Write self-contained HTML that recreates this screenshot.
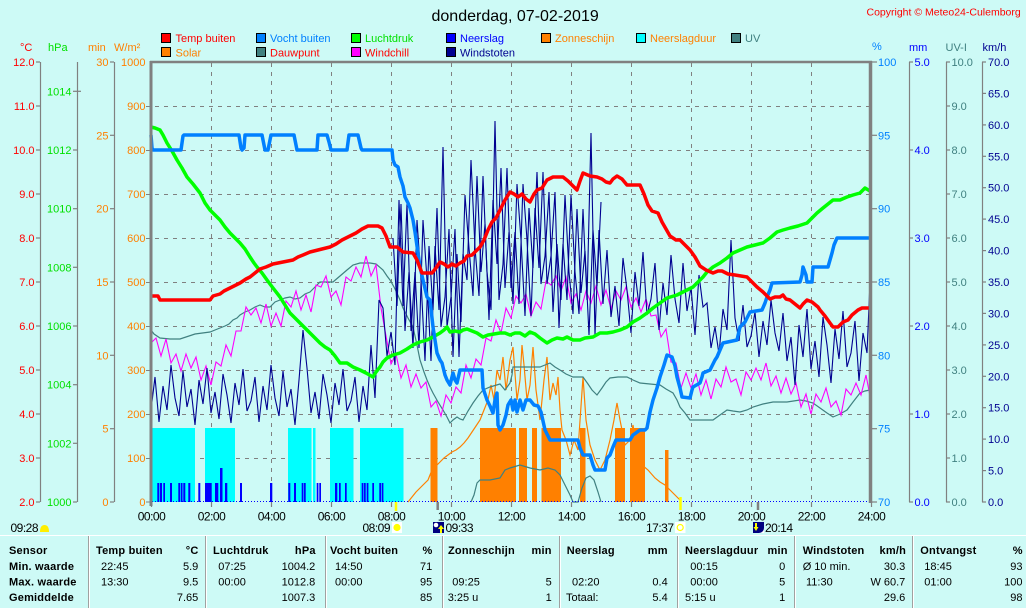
<!DOCTYPE html>
<html>
<head>
<meta charset="utf-8">
<style>
html,body{margin:0;padding:0;background:#cdfaf6;}
body{width:1026px;height:608px;overflow:hidden;}
svg{display:block;}
text{font-family:"Liberation Sans",Arial,sans-serif;font-size:11px;}
.b{font-weight:bold;letter-spacing:0.2px;}
.t{font-size:12px;letter-spacing:-0.5px;}
.e{text-anchor:end;}
</style>
</head>
<body>
<svg width="1026" height="608" viewBox="0 0 1026 608" xmlns="http://www.w3.org/2000/svg">
<rect x="0" y="0" width="1026" height="608" fill="#cdfaf6"/>

<!-- Title & copyright -->
<text x="431.5" y="21" style="font-size:16px" fill="#000">donderdag, 07-02-2019</text>
<text x="866.5" y="15.5" style="font-size:10.5px" fill="#ff0000">Copyright © Meteo24-Culemborg</text>

<!-- Legend -->
<g stroke="#000" stroke-width="1">
<rect x="161.5" y="33.5" width="9" height="9" fill="#ff0000"/>
<rect x="256.5" y="33.5" width="9" height="9" fill="#0080ff"/>
<rect x="351.5" y="33.5" width="9" height="9" fill="#00ff00"/>
<rect x="446.5" y="33.5" width="9" height="9" fill="#0000ff"/>
<rect x="541.5" y="33.5" width="9" height="9" fill="#ff8000"/>
<rect x="636.5" y="33.5" width="9" height="9" fill="#00ffff"/>
<rect x="731.5" y="33.5" width="9" height="9" fill="#408080"/>
<rect x="161.5" y="47.5" width="9" height="9" fill="#ff8000"/>
<rect x="256.5" y="47.5" width="9" height="9" fill="#408080"/>
<rect x="351.5" y="47.5" width="9" height="9" fill="#ff00ff"/>
<rect x="446.5" y="47.5" width="9" height="9" fill="#000090"/>
</g>
<text x="175.5" y="42" fill="#ff0000">Temp buiten</text>
<text x="270" y="42" fill="#0080ff">Vocht buiten</text>
<text x="365" y="42" fill="#00e000">Luchtdruk</text>
<text x="460" y="42" fill="#0000ff">Neerslag</text>
<text x="555" y="42" fill="#ff8000">Zonneschijn</text>
<text x="650" y="42" fill="#ff8000">Neerslagduur</text>
<text x="745" y="42" fill="#408080">UV</text>
<text x="175.5" y="56.5" fill="#ff8000">Solar</text>
<text x="270" y="56.5" fill="#ff0000">Dauwpunt</text>
<text x="365" y="56.5" fill="#ff0000">Windchill</text>
<text x="460" y="56.5" fill="#000090">Windstoten</text>

<!-- Unit headers -->
<text x="20" y="51" fill="#ff0000">°C</text>
<text x="48" y="51" fill="#00e000">hPa</text>
<text x="88" y="51" fill="#ff8000">min</text>
<text x="114" y="51" fill="#ff8000">W/m²</text>
<text x="872" y="50" fill="#0080ff">%</text>
<text x="909" y="51" fill="#0000ff">mm</text>
<text x="945.5" y="51" fill="#408080">UV-I</text>
<text x="982.5" y="51" fill="#000090">km/h</text>

<!-- Axis lines -->
<g stroke="#808080" stroke-width="1.2">
<line x1="40.5" y1="62" x2="40.5" y2="502"/>
<line x1="77.5" y1="62" x2="77.5" y2="502"/>
<line x1="114.5" y1="62" x2="114.5" y2="502"/>
<line x1="909.5" y1="62" x2="909.5" y2="502"/>
<line x1="946.5" y1="62" x2="946.5" y2="502"/>
<line x1="982.5" y1="62" x2="982.5" y2="502"/>
</g>
<!-- Ticks -->
<g stroke="#808080" stroke-width="1.2">
<!-- C -->
<line x1="36" y1="62" x2="40" y2="62"/><line x1="36" y1="106" x2="40" y2="106"/><line x1="36" y1="150" x2="40" y2="150"/><line x1="36" y1="194" x2="40" y2="194"/><line x1="36" y1="238" x2="40" y2="238"/><line x1="36" y1="282" x2="40" y2="282"/><line x1="36" y1="326" x2="40" y2="326"/><line x1="36" y1="370" x2="40" y2="370"/><line x1="36" y1="414" x2="40" y2="414"/><line x1="36" y1="458" x2="40" y2="458"/><line x1="36" y1="502" x2="40" y2="502"/>
<!-- hPa -->
<line x1="73" y1="91.3" x2="81" y2="91.3"/><line x1="73" y1="150" x2="77" y2="150"/><line x1="73" y1="208.7" x2="77" y2="208.7"/><line x1="73" y1="267.3" x2="77" y2="267.3"/><line x1="73" y1="326" x2="77" y2="326"/><line x1="73" y1="384.7" x2="77" y2="384.7"/><line x1="73" y1="443.3" x2="77" y2="443.3"/><line x1="73" y1="502" x2="77" y2="502"/>
<!-- min -->
<line x1="110" y1="62" x2="114" y2="62"/><line x1="110" y1="135.3" x2="114" y2="135.3"/><line x1="110" y1="208.7" x2="114" y2="208.7"/><line x1="110" y1="282" x2="114" y2="282"/><line x1="110" y1="355.3" x2="114" y2="355.3"/><line x1="110" y1="428.7" x2="114" y2="428.7"/><line x1="110" y1="502" x2="114" y2="502"/>
<!-- % -->
<line x1="871" y1="62" x2="877" y2="62"/><line x1="871" y1="135.3" x2="877" y2="135.3"/><line x1="871" y1="208.7" x2="877" y2="208.7"/><line x1="871" y1="282" x2="877" y2="282"/><line x1="871" y1="355.3" x2="877" y2="355.3"/><line x1="871" y1="428.7" x2="877" y2="428.7"/><line x1="871" y1="502" x2="877" y2="502"/>
<!-- mm -->
<line x1="909" y1="62" x2="913" y2="62"/><line x1="909" y1="150" x2="913" y2="150"/><line x1="909" y1="238" x2="913" y2="238"/><line x1="909" y1="326" x2="913" y2="326"/><line x1="909" y1="414" x2="913" y2="414"/><line x1="909" y1="502" x2="913" y2="502"/>
<!-- UV -->
<line x1="946" y1="62" x2="950" y2="62"/><line x1="946" y1="106" x2="950" y2="106"/><line x1="946" y1="150" x2="950" y2="150"/><line x1="946" y1="194" x2="950" y2="194"/><line x1="946" y1="238" x2="950" y2="238"/><line x1="946" y1="282" x2="950" y2="282"/><line x1="946" y1="326" x2="950" y2="326"/><line x1="946" y1="370" x2="950" y2="370"/><line x1="946" y1="414" x2="950" y2="414"/><line x1="946" y1="458" x2="950" y2="458"/><line x1="946" y1="502" x2="950" y2="502"/>
<!-- km/h -->
<line x1="982" y1="62" x2="986" y2="62"/><line x1="982" y1="93.4" x2="986" y2="93.4"/><line x1="982" y1="124.9" x2="986" y2="124.9"/><line x1="982" y1="156.3" x2="986" y2="156.3"/><line x1="982" y1="187.7" x2="986" y2="187.7"/><line x1="982" y1="219.1" x2="986" y2="219.1"/><line x1="982" y1="250.6" x2="986" y2="250.6"/><line x1="982" y1="282" x2="986" y2="282"/><line x1="982" y1="313.4" x2="986" y2="313.4"/><line x1="982" y1="344.9" x2="986" y2="344.9"/><line x1="982" y1="376.3" x2="986" y2="376.3"/><line x1="982" y1="407.7" x2="986" y2="407.7"/><line x1="982" y1="439.1" x2="986" y2="439.1"/><line x1="982" y1="470.6" x2="986" y2="470.6"/><line x1="982" y1="502" x2="986" y2="502"/>
<!-- x ticks -->
<line x1="151.5" y1="502" x2="151.5" y2="507"/><line x1="211.5" y1="502" x2="211.5" y2="507"/><line x1="271.5" y1="502" x2="271.5" y2="507"/><line x1="331.5" y1="502" x2="331.5" y2="507"/><line x1="391.5" y1="502" x2="391.5" y2="507"/><line x1="451.5" y1="502" x2="451.5" y2="507"/><line x1="511.5" y1="502" x2="511.5" y2="507"/><line x1="571.5" y1="502" x2="571.5" y2="507"/><line x1="631.5" y1="502" x2="631.5" y2="507"/><line x1="691.5" y1="502" x2="691.5" y2="507"/><line x1="751.5" y1="502" x2="751.5" y2="507"/><line x1="811.5" y1="502" x2="811.5" y2="507"/><line x1="871.5" y1="502" x2="871.5" y2="507"/>
</g>

<!-- Left labels -->
<g fill="#ff0000" class="e">
<text class="e" x="34.5" y="66">12.0</text><text class="e" x="34.5" y="110">11.0</text><text class="e" x="34.5" y="154">10.0</text><text class="e" x="34.5" y="198">9.0</text><text class="e" x="34.5" y="242">8.0</text><text class="e" x="34.5" y="286">7.0</text><text class="e" x="34.5" y="330">6.0</text><text class="e" x="34.5" y="374">5.0</text><text class="e" x="34.5" y="418">4.0</text><text class="e" x="34.5" y="462">3.0</text><text class="e" x="34.5" y="506">2.0</text>
</g>
<g fill="#00e000">
<text class="e" x="71.5" y="95.3">1014</text><text class="e" x="71.5" y="154">1012</text><text class="e" x="71.5" y="212.7">1010</text><text class="e" x="71.5" y="271.3">1008</text><text class="e" x="71.5" y="330">1006</text><text class="e" x="71.5" y="388.7">1004</text><text class="e" x="71.5" y="447.3">1002</text><text class="e" x="71.5" y="506">1000</text>
</g>
<g fill="#ff8000">
<text class="e" x="108.5" y="66">30</text><text class="e" x="108.5" y="139.3">25</text><text class="e" x="108.5" y="212.7">20</text><text class="e" x="108.5" y="286">15</text><text class="e" x="108.5" y="359.3">10</text><text class="e" x="108.5" y="432.7">5</text><text class="e" x="108.5" y="506">0</text>
<text class="e" x="145.5" y="66">1000</text><text class="e" x="145.5" y="110">900</text><text class="e" x="145.5" y="154">800</text><text class="e" x="145.5" y="198">700</text><text class="e" x="145.5" y="242">600</text><text class="e" x="145.5" y="286">500</text><text class="e" x="145.5" y="330">400</text><text class="e" x="145.5" y="374">300</text><text class="e" x="145.5" y="418">200</text><text class="e" x="145.5" y="462">100</text><text class="e" x="145.5" y="506">0</text>
</g>
<!-- Right labels -->
<g fill="#0080ff">
<text x="878" y="66">100</text><text x="878" y="139.3">95</text><text x="878" y="212.7">90</text><text x="878" y="286">85</text><text x="878" y="359.3">80</text><text x="878" y="432.7">75</text><text x="878" y="506">70</text>
</g>
<g fill="#0000ff">
<text x="914.5" y="66">5.0</text><text x="914.5" y="154">4.0</text><text x="914.5" y="242">3.0</text><text x="914.5" y="330">2.0</text><text x="914.5" y="418">1.0</text><text x="914.5" y="506">0.0</text>
</g>
<g fill="#408080">
<text x="951.5" y="66">10.0</text><text x="951.5" y="110">9.0</text><text x="951.5" y="154">8.0</text><text x="951.5" y="198">7.0</text><text x="951.5" y="242">6.0</text><text x="951.5" y="286">5.0</text><text x="951.5" y="330">4.0</text><text x="951.5" y="374">3.0</text><text x="951.5" y="418">2.0</text><text x="951.5" y="462">1.0</text><text x="951.5" y="506">0.0</text>
</g>
<g fill="#000090">
<text x="988" y="66">70.0</text><text x="988" y="97.4">65.0</text><text x="988" y="128.9">60.0</text><text x="988" y="160.3">55.0</text><text x="988" y="191.7">50.0</text><text x="988" y="223.1">45.0</text><text x="988" y="254.6">40.0</text><text x="988" y="286">35.0</text><text x="988" y="317.4">30.0</text><text x="988" y="348.9">25.0</text><text x="988" y="380.3">20.0</text><text x="988" y="411.7">15.0</text><text x="988" y="443.1">10.0</text><text x="988" y="474.6">5.0</text><text x="988" y="506">0.0</text>
</g>

<!-- Grid -->
<g stroke="#808080" stroke-width="1" stroke-dasharray="4 5">
<line x1="146" y1="106.5" x2="869" y2="106.5"/><line x1="146" y1="150.5" x2="869" y2="150.5"/><line x1="146" y1="194.5" x2="869" y2="194.5"/><line x1="146" y1="238.5" x2="869" y2="238.5"/><line x1="146" y1="282.5" x2="869" y2="282.5"/><line x1="146" y1="326.5" x2="869" y2="326.5"/><line x1="146" y1="370.5" x2="869" y2="370.5"/><line x1="146" y1="414.5" x2="869" y2="414.5"/><line x1="146" y1="458.5" x2="869" y2="458.5"/><line x1="146" y1="502" x2="151" y2="502"/>
<line x1="211.5" y1="63" x2="211.5" y2="502"/><line x1="271.5" y1="63" x2="271.5" y2="502"/><line x1="331.5" y1="63" x2="331.5" y2="502"/><line x1="391.5" y1="63" x2="391.5" y2="502"/><line x1="451.5" y1="63" x2="451.5" y2="502"/><line x1="511.5" y1="63" x2="511.5" y2="502"/><line x1="571.5" y1="63" x2="571.5" y2="502"/><line x1="631.5" y1="63" x2="631.5" y2="502"/><line x1="691.5" y1="63" x2="691.5" y2="502"/><line x1="751.5" y1="63" x2="751.5" y2="502"/><line x1="811.5" y1="63" x2="811.5" y2="502"/>
</g>

<!-- Neerslagduur (cyan) -->
<g fill="#00ffff">
<rect x="152" y="428" width="43" height="74"/>
<rect x="205" y="428" width="30" height="74"/>
<rect x="288" y="428" width="23.5" height="74"/>
<rect x="313" y="428" width="2.5" height="74"/>
<rect x="330" y="428" width="23.5" height="74"/>
<rect x="360" y="428" width="43.5" height="74"/>
</g>
<!-- Zonneschijn (orange bars) -->
<g fill="#ff8000">
<rect x="430.5" y="428" width="7" height="74"/>
<rect x="480" y="428" width="36" height="74"/>
<rect x="519" y="428" width="8" height="74"/>
<rect x="532" y="428" width="5" height="74"/>
<rect x="541.5" y="428" width="19.5" height="74"/>
<rect x="580" y="428" width="5.5" height="74"/>
<rect x="615" y="428" width="10" height="74"/>
<rect x="630" y="428" width="15" height="74"/>
<rect x="665" y="450" width="3.5" height="52"/>
</g>
<!-- Neerslag (blue bars) -->
<g fill="#0000ff">
<rect x="157.3" y="483" width="2" height="19"/><rect x="160" y="483" width="2" height="19"/><rect x="163.3" y="483" width="1.7" height="19"/><rect x="170" y="483" width="2" height="19"/><rect x="178.3" y="483" width="2" height="19"/><rect x="181" y="483" width="1.5" height="19"/><rect x="183.3" y="483" width="2" height="19"/><rect x="188.3" y="483" width="2" height="19"/><rect x="198.3" y="483" width="2" height="19"/><rect x="205" y="483" width="6.7" height="19"/><rect x="215" y="483" width="3.3" height="19"/><rect x="220" y="468" width="2.5" height="34"/><rect x="225" y="483" width="2.3" height="19"/><rect x="240" y="483" width="2" height="19"/><rect x="270" y="483" width="2.3" height="19"/><rect x="288.3" y="483" width="2" height="19"/><rect x="294" y="483" width="2" height="19"/><rect x="301.7" y="483" width="1.7" height="19"/><rect x="304" y="483" width="1.7" height="19"/><rect x="316.7" y="483" width="1.7" height="19"/><rect x="319.3" y="483" width="1.7" height="19"/><rect x="335" y="483" width="2.3" height="19"/><rect x="339" y="483" width="1.7" height="19"/><rect x="345" y="483" width="1.7" height="19"/><rect x="361.7" y="483" width="1.7" height="19"/><rect x="364" y="483" width="1.7" height="19"/><rect x="366.7" y="483" width="1.7" height="19"/><rect x="372.3" y="483" width="1.7" height="19"/><rect x="379.3" y="483" width="1.7" height="19"/><rect x="381.7" y="483" width="1.7" height="19"/>
</g>

<!-- UV -->
<polyline fill="none" stroke="#408080" stroke-width="1.2" points="471,502 474,495 477,483 480,480 490,480 500,478 505,470 510,468 520,465 530,468 540,470 548,468 555,470 560,475 565,485 570,495 573,502 578,502 582,488 586,478 590,476 594,480 598,492 601,502"/>
<!-- Solar -->
<polyline fill="none" stroke="#ff8000" stroke-width="1.2" points="408,502 412,497 416,492 420,488 424,484 428,480 432,470 436,466 440,462 444,458 448,455 452,452 456,450 460,447 464,443 468,438 472,432 476,426 480,420 484,410 488,400 491,385 494,400 497,370 500,380 503,357 506,390 510,360 513,347 517,400 520,380 522,345 524,365 527,400 530,385 533,347 536,390 540,420 544,380 547,357 550,400 553,383 556,395 558,377 560,410 562,430 566,440 570,455 574,440 578,450 583,377 586,420 590,445 595,460 600,470 605,460 610,440 614,420 617,403 620,420 625,445 630,440 633,425 637,450 642,465 648,470 655,478 660,482 665,485 670,490 675,495 680,500"/>
<!-- Dauwpunt -->
<polyline fill="none" stroke="#408080" stroke-width="1.2" points="151,330 154,334 160,338 170,339 180,339 195,334 210,332 215,330 220,328 225,326 229,324 233,320 237,318 240,315 245,312 250,310 255,307 260,305 265,307 270,307 275,302 280,300 285,298 290,297 295,299 300,298 305,294 310,292 315,287 320,282 326,282 333,282 340,276 347,270 353,265 360,263 370,263 376,264 383,270 387,276 390,280 394,287 397,293 400,300 403,308 408,318 413,327 417,345 420,360 424,372 427,380 430,387 433,393 438,402 443,410 447,417 450,423 453,420 457,417 460,419 463,420 468,411 473,403 478,396 483,390 490,387 500,384 505,390 510,383 512,375 513,367 520,367 530,367 540,367 545,365 550,363 555,367 560,370 566,374 573,377 583,377 588,384 592,390 597,395 602,388 606,382 610,378 618,377 627,377 633,380 640,383 650,384 660,385 666,389 673,393 677,400 680,407 685,413 690,420 700,420 706,420 713,420 720,415 727,410 733,411 740,412 747,410 753,407 763,404 773,402 787,402 800,400 806,401 813,403 820,408 827,413 833,417 840,414 847,410 853,402 860,393 865,391 870,390"/>
<!-- Windchill -->
<polyline fill="none" stroke="#ff00ff" stroke-width="1.1" points="151,343 156,338 161,356 166,339 171,363 176,354 181,371 186,354 191,368 196,357 201,380 206,366 211,385 216,362 221,366 226,345 231,356 236,331 241,331 246,307 251,315 256,308 261,323 266,304 271,326 276,313 281,326 286,301 291,307 296,291 301,310 306,295 311,312 316,285 321,287 326,276 331,297 336,291 341,305 346,277 351,281 356,267 361,277 366,256 371,276 376,265 381,308 386,336 391,364 396,354 401,378 406,365 411,387 416,374 421,388 426,382 431,407 436,401 441,416 446,395 451,403 456,387 461,393 466,365 471,378 476,359 481,365 486,338 491,341 496,320 501,333 506,308 511,318 516,296 521,303 526,294 531,316 536,302 541,309 546,281 551,285 556,276 561,291 566,277 571,303 576,294 581,310 586,291 591,303 596,286 601,305 606,290 611,309 616,291 621,300 626,287 631,307 636,298 641,312 646,299 651,316 656,315 661,337 666,329 671,362 676,363 681,388 686,373 691,388 696,374 701,395 706,380 711,399 716,379 721,387 726,367 731,382 736,379 741,395 746,372 751,380 756,368 761,380 766,363 771,386 776,376 781,393 786,378 791,394 796,383 801,407 806,394 811,414 816,394 821,402 826,388 831,407 836,401 841,415 846,389 851,395 856,383 861,395 866,375 870,396"/>
<!-- Windstoten -->
<polyline fill="none" stroke="#000090" stroke-width="1.1" points="151,410 155,377 159,422 163,386 167,410 171,365 175,398 179,416 183,371 187,407 191,389 195,425 199,380 203,404 207,368 211,413 215,392 219,419 223,374 227,395 231,423 235,383 239,405 243,369 247,411 251,401 255,377 259,422 263,386 267,410 271,365 275,398 279,416 283,371 287,407 291,389 295,425 299,380 303,330 307,368 311,413 315,392 319,419 323,374 327,395 331,423 335,383 339,405 343,369 347,411 351,401 355,377 359,422 363,386 367,410 371,345 375,398 379,300 383,308 387,356 391,332 395,365 399,200 403,306 407,204 411,331 415,272 419,348 423,220 427,280 431,361 435,246 439,310 443,147 447,327 451,297 455,229 459,357 463,254 467,280 471,160 475,248 479,296 483,176 487,272 491,310 495,121 499,300 503,264 507,168 511,288 515,232 519,304 523,184 527,240 531,316 535,208 539,268 543,172 547,284 551,256 555,192 559,328 563,244 567,300 571,195 575,272 579,314 583,209 587,300 591,133 595,335 599,230 603,304 607,250 611,317 615,286 619,326 623,258 627,290 631,333 635,272 639,306 643,252 647,315 651,299 655,263 659,330 663,283 667,315 671,255 675,299 679,323 683,263 687,311 691,287 695,335 699,275 703,307 707,303 711,348 715,327 719,354 723,309 727,330 731,240 735,318 739,341 743,305 747,347 751,336 755,312 759,357 763,321 767,345 771,300 775,333 779,351 783,313 787,361 791,337 795,385 799,325 803,357 807,309 811,369 815,341 819,377 823,317 827,345 831,383 835,329 839,359 843,311 847,367 851,353 855,321 859,381 863,333 867,353 870,282"/>
<polyline fill="none" stroke="#000090" stroke-width="1.1" points="393,238 397,306 401,204 405,331 409,272 413,348 417,220 421,280 425,361 429,246 433,310 437,208 441,327 445,297 449,229 453,357 457,254 461,322 465,195 469,248 473,296 477,176 481,272 485,224 489,320 493,200 497,264 501,168 505,288 509,232 513,304 517,184 521,240 525,316 529,208 533,268 537,172 541,284 545,256 549,192 553,312 557,244 561,300 565,195 569,272 573,314 577,209 581,293 585,251 589,335 593,230 597,286 601,202"/>

<!-- Luchtdruk -->
<polyline fill="none" stroke="#00ff00" stroke-width="3.5" stroke-linejoin="round" points="151,127 155,128 160,130 163,135 167,143 172,151 177,160 182,168 187,177 193,184 200,193 205,203 210,210 215,215 220,220 225,227 230,233 235,238 240,243 245,249 250,257 254,263 257,267 262,273 267,280 273,288 280,297 285,305 290,313 295,318 300,323 305,328 310,333 315,338 320,343 325,347 330,350 335,356 340,363 347,363 353,367 360,370 366,373 373,377 376,372 380,367 383,362 387,358 393,355 400,353 407,349 413,345 420,342 427,340 433,337 440,333 444,330 447,327 450,332 455,331 460,332 463,330 467,329 472,331 477,333 480,335 483,337 488,335 494,334 500,333 505,333 510,335 515,333 520,333 525,336 530,332 535,334 540,338 547,343 552,340 557,338 563,339 567,337 573,340 580,340 585,338 593,337 600,333 607,333 613,332 620,330 627,327 633,322 640,318 647,313 653,308 660,303 667,298 677,295 683,292 693,287 698,282 703,277 707,272 713,267 720,263 727,258 733,253 740,250 747,247 755,245 763,243 770,238 777,232 783,230 790,228 798,226 807,223 812,218 817,213 823,208 828,204 833,200 840,200 847,197 853,195 860,193 865,188 870,191"/>
<!-- Vocht buiten -->
<polyline fill="none" stroke="#0080ff" stroke-width="3.5" stroke-linejoin="round" points="151,135 152,148 153,150 181,150 183,136 184,135 239,135 241,148 242,150 244,148 245,135 262,135 265,150 268,150 271,135 294,135 297,150 317,150 318,135 327,135 329,142 331,150 347,150 349,135 358,135 361,148 362,150 392,150 393,160 395,165 398,167 400,177 403,186 405,197 408,203 410,208 413,220 415,232 418,253 420,267 423,280 427,297 430,300 433,327 435,340 437,353 440,360 442,363 445,375 447,380 450,385 453,373 455,380 457,383 460,370 482,370 483,388 487,400 490,406 493,413 495,400 497,393 498,425 500,430 503,425 506,415 508,405 511,400 513,410 515,400 517,412 520,400 523,410 526,400 530,400 534,405 538,406 541,412 545,430 550,440 578,440 580,448 583,455 590,455 593,465 595,470 605,470 607,458 610,455 613,447 616,440 630,440 633,435 640,430 645,430 647,428 650,412 653,400 657,388 660,377 664,365 667,355 672,357 675,366 677,377 680,388 682,397 690,398 692,390 693,387 700,383 702,377 703,373 710,370 715,360 717,357 720,350 723,343 737,340 740,327 745,322 750,312 762,310 765,303 767,297 770,290 772,283 800,282 802,275 803,267 806,275 807,282 812,282 813,267 828,267 830,260 832,253 834,245 837,238 870,238"/>
<!-- Temp buiten -->
<polyline fill="none" stroke="#ff0000" stroke-width="3.5" stroke-linejoin="round" points="151,296 158,296 160,300 210,300 213,296 220,294 224,291 230,288 234,286 240,283 246,279 250,277 255,273 260,269 266,267 273,264 283,262 293,260 298,257 303,255 310,252 318,250 330,247 336,244 342,240 350,236 356,233 362,229 368,226 378,226 382,228 386,236 390,247 397,247 403,252 413,253 417,260 422,273 432,273 436,268 440,262 444,264 448,267 452,264 456,266 460,263 464,261 467,256 472,255 476,251 480,247 484,240 488,230 492,222 496,218 500,210 505,200 510,192 514,194 518,197 522,194 526,199 530,202 534,194 537,190 542,188 547,180 553,177 563,177 568,181 572,185 577,190 580,181 583,173 590,176 597,177 602,179 606,182 610,183 613,179 617,176 622,179 627,185 640,185 644,194 648,205 652,211 658,213 662,222 666,229 670,236 676,240 680,240 684,244 690,250 695,257 700,266 706,270 713,273 718,271 722,271 728,274 735,275 747,277 750,280 757,287 763,292 770,299 775,297 780,297 783,295 786,299 790,300 795,304 800,308 803,304 807,300 812,302 818,307 820,310 825,316 830,323 833,327 838,327 843,322 848,320 852,315 858,310 862,308 870,308"/>

<!-- bottom dotted line -->
<line x1="152" y1="501.5" x2="869" y2="501.5" stroke="#0000ff" stroke-width="1" stroke-dasharray="1 2"/>

<!-- Plot borders -->
<line x1="150" y1="62" x2="872" y2="62" stroke="#808080" stroke-width="2.5"/>
<line x1="151" y1="61" x2="151" y2="506" stroke="#808080" stroke-width="3"/>
<line x1="870.5" y1="61" x2="870.5" y2="503" stroke="#808080" stroke-width="3.5"/>

<!-- event ticks -->
<line x1="396" y1="502" x2="396" y2="511" stroke="#ffff00" stroke-width="2.5"/>
<line x1="437.7" y1="502" x2="437.7" y2="510" stroke="#808080" stroke-width="2.5"/>
<line x1="680.5" y1="497" x2="680.5" y2="510" stroke="#ffff00" stroke-width="2.5"/>
<line x1="758" y1="502" x2="758" y2="510" stroke="#808080" stroke-width="2.5"/>

<!-- X labels -->
<g class="t" fill="#000" text-anchor="middle">
<text class="t" x="151.5" y="520.5" text-anchor="middle">00:00</text>
<text class="t" x="211.5" y="520.5" text-anchor="middle">02:00</text>
<text class="t" x="271.5" y="520.5" text-anchor="middle">04:00</text>
<text class="t" x="331.5" y="520.5" text-anchor="middle">06:00</text>
<text class="t" x="391.5" y="520.5" text-anchor="middle">08:00</text>
<text class="t" x="451.5" y="520.5" text-anchor="middle">10:00</text>
<text class="t" x="511.5" y="520.5" text-anchor="middle">12:00</text>
<text class="t" x="571.5" y="520.5" text-anchor="middle">14:00</text>
<text class="t" x="631.5" y="520.5" text-anchor="middle">16:00</text>
<text class="t" x="691.5" y="520.5" text-anchor="middle">18:00</text>
<text class="t" x="751.5" y="520.5" text-anchor="middle">20:00</text>
<text class="t" x="811.5" y="520.5" text-anchor="middle">22:00</text>
<text class="t" x="871.5" y="520.5" text-anchor="middle">24:00</text>
</g>

<!-- Sun / moon markers -->
<text class="t" x="10.5" y="532" fill="#000">09:28</text>
<path d="M40,532 Q40,525 44.5,525 Q49,525 49,532 Z" fill="#ffee00"/>
<text class="t" x="362.5" y="532" fill="#000">08:09</text>
<rect x="392" y="522" width="10" height="11" fill="#ffffff"/>
<circle cx="397" cy="527.5" r="3.6" fill="#ffff00"/>
<rect x="433" y="522" width="11" height="11" fill="#000080"/>
<circle cx="436" cy="525" r="2.3" fill="#ffffff"/>
<path d="M441,525 L444,529 L442,529 L442,533 L440,533 L440,529 L438,529 Z" fill="#ffff00"/>
<text class="t" x="445.5" y="532" fill="#000">09:33</text>
<text class="t" x="646" y="532" fill="#000">17:37</text>
<rect x="675" y="522" width="10.5" height="11" fill="#ffffff"/>
<circle cx="680.2" cy="527.5" r="3" fill="none" stroke="#ffff00" stroke-width="1.2"/>
<rect x="753" y="522" width="11" height="11" fill="#000080"/>
<path d="M756,531 L753.5,527 L755,527 L755,523 L757,523 L757,527 L758.5,527 Z" fill="#ffff00"/>
<path d="M764,528 A5,5 0 0 1 759,533 L764,533 Z" fill="#ffffff"/>
<text class="t" x="765" y="532" fill="#000">20:14</text>

<!-- Table separators -->
<line x1="0" y1="535.5" x2="1026" y2="535.5" stroke="#ffffff" stroke-width="1"/>
<g stroke-width="1">
<line x1="88.5" y1="536" x2="88.5" y2="608" stroke="#a0a0a0"/><line x1="89.5" y1="536" x2="89.5" y2="608" stroke="#ffffff"/>
<line x1="205.5" y1="536" x2="205.5" y2="608" stroke="#a0a0a0"/><line x1="206.5" y1="536" x2="206.5" y2="608" stroke="#ffffff"/>
<line x1="325.5" y1="536" x2="325.5" y2="608" stroke="#a0a0a0"/><line x1="326.5" y1="536" x2="326.5" y2="608" stroke="#ffffff"/>
<line x1="442.5" y1="536" x2="442.5" y2="608" stroke="#a0a0a0"/><line x1="443.5" y1="536" x2="443.5" y2="608" stroke="#ffffff"/>
<line x1="559.5" y1="536" x2="559.5" y2="608" stroke="#a0a0a0"/><line x1="560.5" y1="536" x2="560.5" y2="608" stroke="#ffffff"/>
<line x1="677.5" y1="536" x2="677.5" y2="608" stroke="#a0a0a0"/><line x1="678.5" y1="536" x2="678.5" y2="608" stroke="#ffffff"/>
<line x1="794.5" y1="536" x2="794.5" y2="608" stroke="#a0a0a0"/><line x1="795.5" y1="536" x2="795.5" y2="608" stroke="#ffffff"/>
<line x1="912.5" y1="536" x2="912.5" y2="608" stroke="#a0a0a0"/><line x1="913.5" y1="536" x2="913.5" y2="608" stroke="#ffffff"/>
</g>

<!-- Table text -->
<g fill="#000">
<text class="b" x="9" y="554">Sensor</text>
<text class="b" x="96" y="554">Temp buiten</text><text class="b e" x="198.5" y="554">°C</text>
<text class="b" x="213" y="554">Luchtdruk</text><text class="b e" x="315.7" y="554">hPa</text>
<text class="b" x="330" y="554">Vocht buiten</text><text class="b e" x="432.5" y="554">%</text>
<text class="b" x="448" y="554">Zonneschijn</text><text class="b e" x="551.7" y="554">min</text>
<text class="b" x="566.7" y="554">Neerslag</text><text class="b e" x="667.7" y="554">mm</text>
<text class="b" x="685" y="554">Neerslagduur</text><text class="b e" x="787.7" y="554">min</text>
<text class="b" x="802.7" y="554">Windstoten</text><text class="b e" x="906" y="554">km/h</text>
<text class="b" x="920.3" y="554">Ontvangst</text><text class="b e" x="1022.7" y="554">%</text>

<text class="b" x="9" y="570">Min. waarde</text>
<text class="b" x="9" y="585.5">Max. waarde</text>
<text class="b" x="9" y="601">Gemiddelde</text>

<text x="101" y="570">22:45</text><text class="e" x="198.3" y="570">5.9</text>
<text x="218.3" y="570">07:25</text><text class="e" x="315.3" y="570">1004.2</text>
<text x="335" y="570">14:50</text><text class="e" x="432.3" y="570">71</text>
<text x="690.3" y="570">00:15</text><text class="e" x="785.3" y="570">0</text>
<text x="802.7" y="570">Ø 10 min.</text><text class="e" x="905.3" y="570">30.3</text>
<text x="924.3" y="570">18:45</text><text class="e" x="1022.5" y="570">93</text>

<text x="101" y="585.5">13:30</text><text class="e" x="198.3" y="585.5">9.5</text>
<text x="218.3" y="585.5">00:00</text><text class="e" x="315.3" y="585.5">1012.8</text>
<text x="335" y="585.5">00:00</text><text class="e" x="432.3" y="585.5">95</text>
<text x="452.3" y="585.5">09:25</text><text class="e" x="551.7" y="585.5">5</text>
<text x="572" y="585.5">02:20</text><text class="e" x="667.7" y="585.5">0.4</text>
<text x="690.3" y="585.5">00:00</text><text class="e" x="785.3" y="585.5">5</text>
<text x="806" y="585.5">11:30</text><text class="e" x="905.3" y="585.5">W 60.7</text>
<text x="924.3" y="585.5">01:00</text><text class="e" x="1022.5" y="585.5">100</text>

<text class="e" x="198.3" y="601">7.65</text>
<text class="e" x="315.3" y="601">1007.3</text>
<text class="e" x="432.3" y="601">85</text>
<text x="447.7" y="601">3:25 u</text><text class="e" x="551.7" y="601">1</text>
<text x="566" y="601">Totaal:</text><text class="e" x="667.7" y="601">5.4</text>
<text x="685" y="601">5:15 u</text><text class="e" x="785.3" y="601">1</text>
<text class="e" x="905.3" y="601">29.6</text>
<text class="e" x="1022.5" y="601">98</text>
</g>
</svg>
</body>
</html>
